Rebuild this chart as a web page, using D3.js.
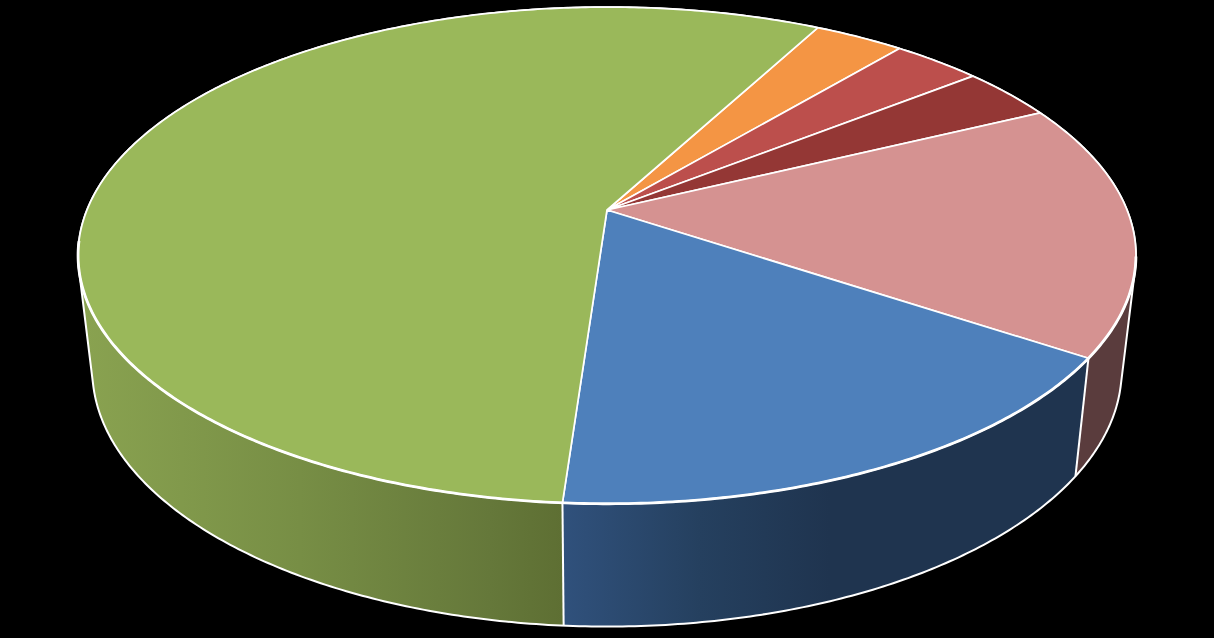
<!DOCTYPE html>
<html>
<head>
<meta charset="utf-8">
<style>html,body{margin:0;padding:0;background:#000;overflow:hidden}svg{display:block}</style>
<script src="https://cdn.jsdelivr.net/npm/d3@7"></script>
</head>
<body>
<svg id="chart" width="1214" height="638"></svg>
<script>
const categories = ["Orange", "Red", "Dark red", "Pink", "Blue", "Green"];
const shares = [3.28, 3.25, 3.47, 16.56, 16.75, 56.69];
const topColors = ["#F49544", "#BC4F4C", "#943735", "#D59291", "#4E80BB", "#9AB85A"];
const firstSliceAngleDeg = 28.1;

const W = 1214, H = 638;
const k = 0.183;                       // perspective foreshortening
const topPlane = {cx: 607, cy: 210, a: 520, b: 240};
const botPlane = {cx: 607, cy: 323, a: 506, b: 248};

function project(plane, theta) {       // theta clockwise from the back of the pie
  const u = Math.sin(theta), v = -Math.cos(theta), w = 1 - k * v;
  return [plane.cx + plane.a * u / w, plane.cy + plane.b * v / w];
}
function arcPoints(plane, a0, a1) {
  const n = Math.max(2, Math.ceil(Math.abs(a1 - a0) / 0.01));
  return d3.range(n + 1).map(i => project(plane, a0 + (a1 - a0) * i / n));
}

const start = firstSliceAngleDeg * Math.PI / 180;
const pie = d3.pie().sort(null).startAngle(start).endAngle(start + 2 * Math.PI);
const arcs = pie(shares);

const svg = d3.select("#chart");
svg.append("rect").attr("width", W).attr("height", H).attr("fill", "#000");
const defs = svg.append("defs");
const line = d3.line();

function gradient(id, stops) {
  const g = defs.append("linearGradient").attr("id", id)
    .attr("gradientUnits", "userSpaceOnUse")
    .attr("x1", 0).attr("x2", W).attr("y1", 0).attr("y2", 0);
  stops.forEach(s => g.append("stop").attr("offset", s[0] / W).attr("stop-color", s[1]));
}
const seamX = project(topPlane, arcs[4].endAngle)[0];
gradient("wallGreen", [[85, "#89A250"], [300, "#778E45"], [490, "#65783A"], [seamX, "#5E6F33"]]);
gradient("wallBlue", [[seamX, "#30517C"], [700, "#25405F"], [830, "#1F344F"], [1090, "#1F344F"]]);
gradient("wallSolid", [[0, "#5A3C3D"], [W, "#5A3C3D"]]);
gradient("hullFill", [[85, "#89A250"], [300, "#778E45"], [606, "#5E6F33"], [607, "#5A3C3D"], [W, "#5A3C3D"]]);

const wallFills = {4: "url(#wallBlue)", 5: "url(#wallGreen)"};

// Silhouette of the puck: hull of the top and bottom rims
const rimTop = arcPoints(topPlane, 0, 2 * Math.PI);
const rimBot = arcPoints(botPlane, 0, 2 * Math.PI);
const hull = d3.polygonHull(rimTop.concat(rimBot));

svg.append("path").attr("d", line(hull) + "Z").attr("fill", "url(#hullFill)");

// Side walls
svg.append("g").selectAll("path").data(arcs).join("path")
  .attr("d", d => line(arcPoints(topPlane, d.startAngle, d.endAngle)
    .concat(arcPoints(botPlane, d.startAngle, d.endAngle).reverse())) + "Z")
  .attr("fill", d => wallFills[d.index] || "url(#wallSolid)");

svg.append("path").attr("d", line(hull) + "Z")
  .attr("fill", "none").attr("stroke", "#fff").attr("stroke-width", 2).attr("stroke-linejoin", "round");

// Vertical seams on the visible side
svg.append("g").selectAll("path")
  .data(arcs.filter(d => Math.cos(d.endAngle) < 0))
  .join("path")
  .attr("d", d => line([project(topPlane, d.endAngle), project(botPlane, d.endAngle)]))
  .attr("stroke", "#fff").attr("stroke-width", 2).attr("fill", "none");

// Top faces
svg.append("g").selectAll("path").data(arcs).join("path")
  .attr("d", d => line([[topPlane.cx, topPlane.cy]].concat(arcPoints(topPlane, d.startAngle, d.endAngle))) + "Z")
  .attr("fill", d => topColors[d.index])
  .attr("stroke", "#fff").attr("stroke-width", 1.7).attr("stroke-linejoin", "round");

// Heavier front rim, nearest the viewer
svg.append("path")
  .attr("d", line(arcPoints(topPlane, Math.PI * 0.56, Math.PI * 1.46)))
  .attr("fill", "none").attr("stroke", "#fff").attr("stroke-width", 2.8);
</script>
</body>
</html>
